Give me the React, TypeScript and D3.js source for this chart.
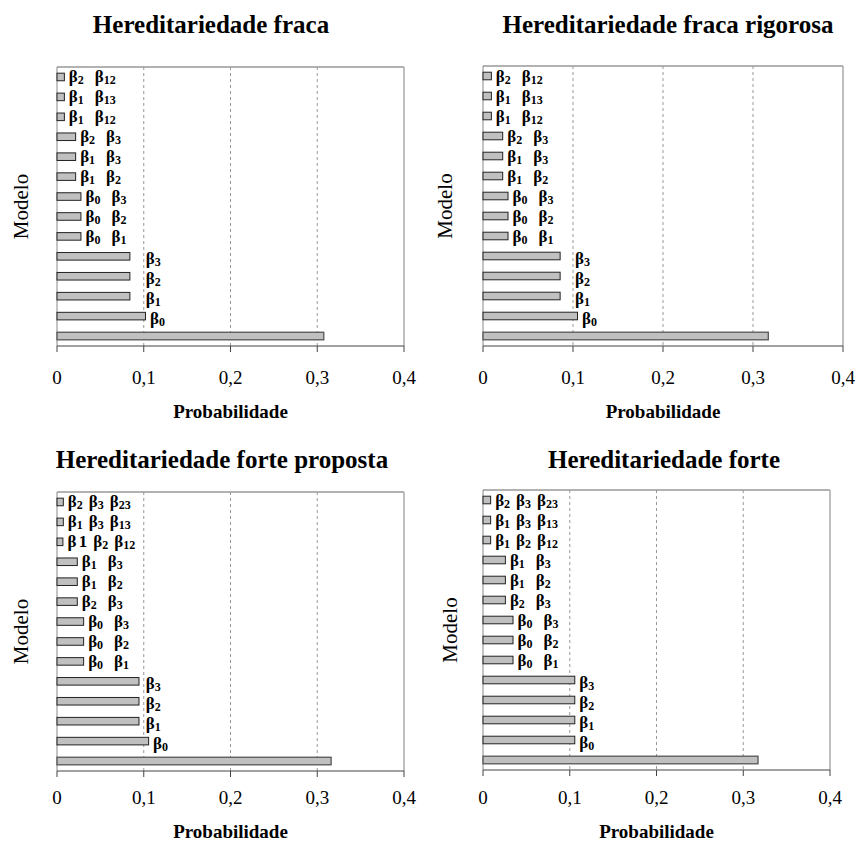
import React from "react"
import * as d3 from "d3"

// categories, bottom to top (first bar is the unlabelled one)
const labelsWeak = ["", "β_0", "β_1", "β_2", "β_3", "β_0|β_1", "β_0|β_2", "β_0|β_3", "β_1|β_2", "β_1|β_3", "β_2|β_3", "β_1|β_12", "β_1|β_13", "β_2|β_12"]
const labelsStrongProp = ["", "β_0", "β_1", "β_2", "β_3", "β_0|β_1", "β_0|β_2", "β_0|β_3", "β_2|β_3", "β_1|β_2", "β_1|β_3", "β 1|β_2|β_12", "β_1|β_3|β_13", "β_2|β_3|β_23"]
const labelsStrong = ["", "β_0", "β_1", "β_2", "β_3", "β_0|β_1", "β_0|β_2", "β_0|β_3", "β_2|β_3", "β_1|β_2", "β_1|β_3", "β_1|β_2|β_12", "β_1|β_3|β_13", "β_2|β_3|β_23"]

const probWeak = [0.3075, 0.102, 0.084, 0.084, 0.084, 0.0276, 0.0276, 0.0276, 0.0215, 0.0215, 0.0215, 0.0085, 0.0085, 0.0085]
const probWeakStrict = [0.317, 0.105, 0.0857, 0.0857, 0.0857, 0.0278, 0.0278, 0.0278, 0.0219, 0.0219, 0.0219, 0.0093, 0.0093, 0.0093]
const probStrongProp = [0.316, 0.1056, 0.0945, 0.0945, 0.0945, 0.0307, 0.0307, 0.0307, 0.0234, 0.0234, 0.0234, 0.0068, 0.0073, 0.0073]
const probStrong = [0.317, 0.1058, 0.1058, 0.1058, 0.1058, 0.0346, 0.0346, 0.0346, 0.0258, 0.0258, 0.0258, 0.0088, 0.0088, 0.0088]

const titles = ["Hereditariedade fraca", "Hereditariedade fraca rigorosa", "Hereditariedade forte proposta", "Hereditariedade forte"]
const tickValues = [0, 0.1, 0.2, 0.3, 0.4]
const tickLabels = ["0", "0,1", "0,2", "0,3", "0,4"]

const panels = [
  { title: titles[0], values: probWeak, labels: labelsWeak },
  { title: titles[1], values: probWeakStrict, labels: labelsWeak },
  { title: titles[2], values: probStrongProp, labels: labelsStrongProp },
  { title: titles[3], values: probStrong, labels: labelsStrong },
]

// layout of each panel on the page
const layout = [
  { x0: 57, x1: 404, y0: 67, y1: 346, titleX: 211, titleY: 33, tickY: 384, axisY: 418, modeloX: 21 },
  { x0: 483, x1: 843, y0: 66, y1: 346, titleX: 668, titleY: 33, tickY: 384, axisY: 418, modeloX: 445 },
  { x0: 57, x1: 404, y0: 492, y1: 771, titleX: 222, titleY: 468, tickY: 804, axisY: 838, modeloX: 21 },
  { x0: 483, x1: 830, y0: 490, y1: 770, titleX: 664, titleY: 468, tickY: 804, axisY: 838, modeloX: 450 },
]

const FONT = "'Liberation Serif', 'Times New Roman', serif"

// one label: terms like "β_12" (subscript) or "β 1" (full-size digit)
const BarLabel = ({ terms, x, y }) => {
  const gap = terms.length === 3 ? 6 : 11
  const parts = []
  let lowered = false
  terms.forEach((t, j) => {
    const dx = j === 0 ? 0 : gap
    const dy = lowered ? -2 : 0
    if (t.includes("_")) {
      const [base, sub] = t.split("_")
      parts.push(<tspan key={j + "b"} dx={dx} dy={dy}>{base}</tspan>)
      parts.push(<tspan key={j + "s"} fontSize={12} dy={2}>{sub}</tspan>)
      lowered = true
    } else {
      const [base, digit] = t.split(" ")
      parts.push(<tspan key={j + "b"} dx={dx} dy={dy}>{base}</tspan>)
      parts.push(<tspan key={j + "d"} dx={2.5}>{digit}</tspan>)
      lowered = false
    }
  })
  return (
    <text x={x} y={y} fontFamily={FONT} fontWeight="bold" fontSize={17} fill="#000">
      {parts}
    </text>
  )
}

const Panel = ({ title, values, labels, lay }) => {
  const { x0, x1, y0, y1 } = lay
  const x = d3.scaleLinear().domain([0, 0.4]).range([x0, x1])
  const y = d3
    .scaleBand()
    .domain(d3.range(values.length).map(String))
    .range([y1, y0])
    .paddingInner(0.62)
    .paddingOuter(0.31)
  const bw = y.bandwidth()

  return (
    <g>
      <text x={lay.titleX} y={lay.titleY} textAnchor="middle" fontFamily={FONT} fontWeight="bold" fontSize={25}>
        {title}
      </text>
      {/* grid */}
      {tickValues.slice(1, -1).map(t => (
        <line key={t} x1={x(t)} x2={x(t)} y1={y0} y2={y1} stroke="#999" strokeDasharray="3,3" strokeWidth={1} />
      ))}
      {/* frame */}
      <line x1={x0} x2={x1} y1={y0} y2={y0} stroke="#999" strokeWidth={1.5} />
      <line x1={x1} x2={x1} y1={y0} y2={y1} stroke="#aaa" strokeWidth={1.5} />
      <line x1={x0} x2={x0} y1={y0} y2={y1} stroke="#888" strokeWidth={1} />
      {/* bars */}
      {values.map((v, i) => (
        <rect
          key={i}
          x={x(0)}
          y={y(String(i))}
          width={x(v) - x(0)}
          height={bw}
          fill="#c0c0c0"
          stroke={i === 0 ? "#555" : "#222"}
          strokeWidth={i === 0 ? 1.3 : 1}
        />
      ))}
      {/* bar labels */}
      {labels.map((lab, i) => {
        if (!lab) return null
        const cy = y(String(i)) + bw / 2
        const terms = lab.split("|")
        const single = terms.length === 1
        const start = single
          ? Math.max(x(values[i]) + 4.5, x(0.1) + 2)
          : x(values[i]) + 4.5
        return <BarLabel key={i} terms={terms} x={start} y={cy + (single ? 8 : 5.5)} />
      })}
      {/* x axis */}
      <line x1={x0} x2={x1} y1={y1} y2={y1} stroke="#444" strokeWidth={1.2} />
      {tickValues.map((t, i) => (
        <g key={t}>
          <line x1={x(t)} x2={x(t)} y1={y1} y2={y1 + 6} stroke="#444" strokeWidth={1} />
          <text x={x(t)} y={lay.tickY} textAnchor="middle" fontFamily={FONT} fontSize={19}>
            {tickLabels[i]}
          </text>
        </g>
      ))}
      <text x={(x0 + x1) / 2} y={lay.axisY} textAnchor="middle" fontFamily={FONT} fontWeight="bold" fontSize={19}>
        Probabilidade
      </text>
      <text
        transform={`translate(${lay.modeloX + 7},${(y0 + y1) / 2}) rotate(-90)`}
        textAnchor="middle"
        fontFamily={FONT}
        fontSize={21}
      >
        Modelo
      </text>
    </g>
  )
}

export default function App() {
  return (
    <div style={{ position: "absolute", left: 0, top: 0 }}>
      <svg width={856} height={850} style={{ display: "block", background: "#fff" }}>
        {panels.map((p, i) => (
          <Panel key={i} {...p} lay={layout[i]} />
        ))}
      </svg>
    </div>
  )
}
